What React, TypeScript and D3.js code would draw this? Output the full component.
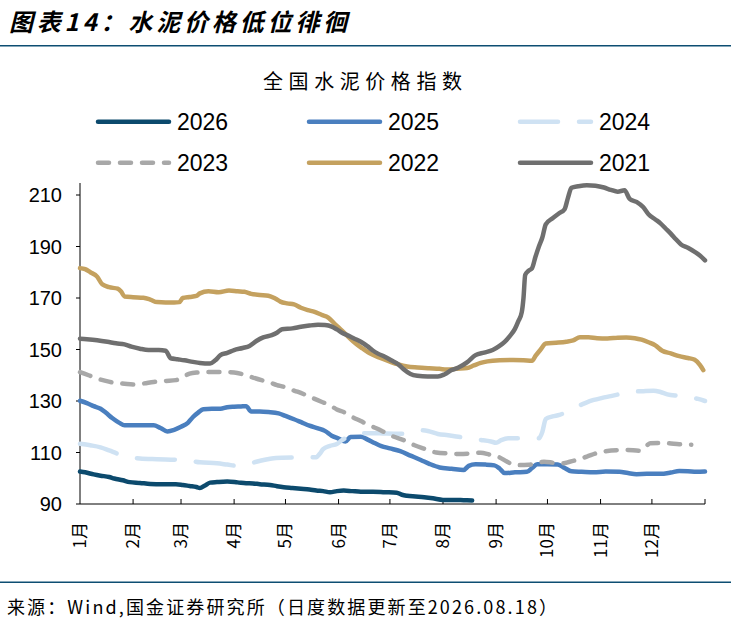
import React from "react";
import * as d3 from "d3";

type Pt = [number, number];

const monthStarts = [0, 31, 59, 90, 120, 151, 181, 212, 243, 273, 304, 334, 365];
const monthLabels = ["1月", "2月", "3月", "4月", "5月", "6月", "7月", "8月", "9月", "10月", "11月", "12月"];
const yTicks = [90, 110, 130, 150, 170, 190, 210];

const s2026: Pt[] = [[0,102.6],[3,102.3],[8,101.5],[12,101],[17,100.5],[20,99.9],[25,99.2],[29,98.5],[35,98.2],[41,97.8],[48,97.7],[56,97.7],[60,97.4],[64,97],[68,96.6],[70,96.2],[73,97.2],[76,98.3],[80,98.5],[86,98.7],[92,98.4],[97,98.1],[101,98],[105,97.7],[111,97.4],[115,96.9],[119,96.5],[124,96.2],[129,95.9],[134,95.6],[138,95.2],[142,95],[146,94.6],[150,95],[154,95.2],[159,95],[164,94.8],[171,94.8],[178,94.6],[185,94.4],[188,93.6],[191,93.2],[196,92.9],[201,92.6],[206,92.2],[212,91.6],[218,91.6],[224,91.5],[229,91.4]];

const s2025: Pt[] = [[0,130.1],[4,129.2],[8,128],[12,127],[15,125.5],[19,123.3],[23,121.5],[26,120.6],[32,120.6],[38,120.6],[43,120.6],[47,119.5],[51,118.2],[55,118.8],[59,120],[63,121.5],[66,123.8],[69,125.5],[72,126.8],[77,127],[82,127],[86,127.6],[90,127.8],[94,127.9],[97,128],[100,125.9],[105,125.9],[110,125.7],[116,125.2],[120,124.2],[125,122.9],[130,121.5],[134,120.4],[139,119.4],[143,118.4],[147,116.5],[151,115.4],[155,114.3],[158,116],[164,116.1],[168,115],[172,113.7],[176,112.5],[181,111.6],[187,110.5],[193,108.8],[199,107.1],[204,105.6],[210,104.2],[217,103.7],[224,103.2],[227,104.8],[231,105.4],[237,105.3],[242,105],[245,103.8],[248,102],[254,102.3],[261,102.5],[264,104],[267,105.4],[273,105.4],[279,105.3],[283,104],[287,102.7],[293,102.5],[300,102.3],[307,102.6],[315,102.5],[320,102],[325,101.6],[331,101.7],[339,101.7],[345,102.2],[350,102.8],[355,102.7],[360,102.5],[365,102.6]];

const s2024: Pt[] = [[0,113.4],[6,112.8],[12,112],[17,110.8],[22,109.5],[28,108.2],[35,107.7],[45,107.4],[58,107.1],[65,106.7],[70,106.2],[80,105.8],[86,105.3],[92,104.8],[98,105.5],[103,106.4],[108,107.2],[112,107.7],[118,108],[125,108.1],[132,108.1],[138,108.2],[140,109.5],[142,111.3],[146,112.6],[150,113.3],[153,114.8],[157,116.2],[163,117.4],[170,117.5],[177,117.4],[183,117.3],[189,117.3],[195,117.8],[200,118.6],[204,118.2],[209,117.2],[215,116.7],[222,116],[228,115.4],[234,114.9],[240,114.3],[243,113.8],[246,114.8],[250,115.5],[256,115.5],[262,115.5],[268,115.5],[270,118],[272,123],[276,124],[280,124.6],[285,126],[290,127.7],[295,129.2],[300,130.4],[305,131.2],[310,131.9],[316,132.8],[321,133.6],[328,133.8],[335,134],[339,133.5],[343,132.6],[350,132],[356,131.4],[361,130.8],[365,130]];

const s2023: Pt[] = [[0,141.2],[5,140],[10,138.7],[15,137.8],[20,137.1],[26,136.7],[31,136.4],[37,136.8],[43,137.4],[50,137.8],[56,138.1],[60,139.3],[64,140.6],[69,141.1],[74,141.3],[82,141.3],[90,141.1],[96,140.2],[101,139.1],[106,138.1],[110,137.4],[115,136.2],[119,135.5],[123,134.5],[127,133.6],[132,132.3],[136,131.1],[141,129.7],[146,128.4],[150,126.7],[154,125.7],[159,123.8],[164,122.2],[168,120.8],[173,119.4],[178,117.8],[183,116.2],[189,114.8],[195,112.9],[201,111.5],[208,110],[215,109.6],[222,109.4],[228,109.6],[234,109.9],[239,109.2],[245,108.1],[249,106.6],[253,105.3],[257,105.1],[262,105.2],[266,105.8],[271,106.4],[277,106],[282,105.8],[286,106.4],[290,107.1],[296,108.4],[302,109.8],[308,110.6],[314,110.9],[319,111],[327,110.7],[330,112],[333,113.6],[338,113.7],[343,113.6],[350,113.2],[357,113]];

const s2022: Pt[] = [[0,181.6],[3,181.2],[6,180],[10,178.3],[13,175.3],[17,174.2],[22,173.6],[24,172.5],[26,170.6],[31,170.3],[37,170.1],[41,169.4],[45,168.4],[50,168.3],[55,168.3],[58,168.4],[60,170],[64,170.4],[68,170.8],[70,171.8],[75,172.6],[81,172.2],[87,172.9],[92,172.6],[96,172.4],[100,171.6],[105,171.2],[110,170.9],[114,169.8],[117,168.6],[121,167.9],[125,167.5],[129,166.2],[133,165.3],[137,164.6],[141,163.5],[145,162.4],[149,159.8],[153,157.3],[157,154.7],[161,152.3],[165,150.4],[169,148.6],[175,146.8],[181,145.3],[186,144.2],[191,143.4],[197,143],[204,142.7],[210,142.5],[214,142.2],[220,142.5],[226,142.8],[230,143.8],[234,144.8],[238,145.4],[245,145.8],[253,145.9],[259,145.8],[264,145.6],[266,147.5],[269,150],[272,152.3],[278,152.6],[284,153],[288,153.5],[292,154.8],[297,154.8],[302,154.4],[308,154.3],[314,154.6],[319,154.7],[324,154.4],[328,153.8],[332,152.8],[336,151.6],[340,149.5],[345,148.5],[350,147.4],[355,146.7],[359,146],[362,144],[364,142]];

const s2021: Pt[] = [[0,154.2],[4,154],[10,153.6],[16,153],[21,152.4],[26,152],[30,151.1],[35,150.3],[40,149.8],[46,149.8],[50,149.5],[53,146.6],[57,146.2],[61,145.8],[66,145.2],[70,144.8],[76,144.6],[79,145.8],[82,147.8],[86,148.7],[90,149.8],[95,150.6],[99,151.4],[103,153.3],[107,154.7],[112,155.6],[115,156.5],[118,157.9],[124,158.2],[129,158.8],[134,159.3],[139,159.6],[143,159.5],[147,158.9],[150,157.8],[153,156.5],[157,155.3],[160,154.3],[164,153],[168,151.2],[171,149.6],[174,148.4],[178,147.2],[182,145.7],[186,144.2],[189,142.3],[193,140.5],[197,139.8],[203,139.5],[209,139.5],[213,140.4],[217,142],[221,143],[226,145],[231,147.8],[236,148.8],[241,149.8],[245,151.4],[248,153],[251,155.2],[254,158],[256,161],[258,164.5],[259,170],[260,179],[262,180.6],[264,181.6],[266,186],[268,190],[270,193.5],[272,198.6],[276,201],[280,203],[283,204.5],[285,209],[287,212.8],[291,213.4],[296,213.8],[301,213.6],[306,212.9],[310,212],[314,211.3],[318,211.8],[321,208.5],[325,207.3],[329,205.2],[332,202.5],[336,200.5],[339,199],[342,197],[345,195],[348,192.8],[351,190.8],[355,189.5],[359,187.9],[362,186.5],[365,184.6]];

const seriesNames = ["2026", "2025", "2024", "2023", "2022", "2021"];
const seriesData = [s2026, s2025, s2024, s2023, s2022, s2021];

const styles: Record<string, { color: string; dash?: string }> = {
  "2026": { color: "#0c4a6d" },
  "2025": { color: "#4a7fbf" },
  "2024": { color: "#cfe2f3", dash: "38,21" },
  "2023": { color: "#a8a8a8", dash: "11,11" },
  "2022": { color: "#c4a15f" },
  "2021": { color: "#6f6f6f" },
};

const W = 731;
const H = 621;
const left = 80;
const right = 705;
const top = 195;
const bottom = 504;

export default function App() {
  const x = d3.scaleLinear().domain([0, 365]).range([left, right]);
  const y = d3.scaleLinear().domain([90, 210]).range([bottom, top]);
  const line = d3
    .line<Pt>()
    .x((d) => x(d[0]))
    .y((d) => y(d[1]))
    .curve(d3.curveMonotoneX);

  const legendCols = [96, 307, 518];
  const legendRows = [121.7, 162.7];
  const cjk = "'Noto Sans CJK SC', 'Noto Sans', sans-serif";
  const latin = "'Liberation Sans', Arial, sans-serif";

  return (
    <svg
      width={W}
      height={H}
      style={{ position: "absolute", left: 0, top: 0, background: "#fff" }}
    >
      <rect x={0} y={0} width={W} height={H} fill="#fff" />
      {/* header */}
      <text
        x={9}
        y={31}
        fontFamily={cjk}
        fontSize={24}
        fontWeight="bold"
        fontStyle="italic"
        fill="#000"
        textLength={338}
        lengthAdjust="spacing"
      >
        图表14：水泥价格低位徘徊
      </text>
      <line x1={0} x2={W} y1={45.7} y2={45.7} stroke="#0d4e72" strokeWidth={1.5} />

      {/* chart title */}
      <text
        x={263}
        y={89}
        fontFamily={cjk}
        fontSize={20}
        fill="#000"
        textLength={199}
        lengthAdjust="spacing"
      >
        全国水泥价格指数
      </text>

      {/* legend */}
      {seriesNames.map((name, i) => {
        const cx = legendCols[i % 3];
        const cy = legendRows[Math.floor(i / 3)];
        const st = styles[name];
        return (
          <g key={name}>
            <line
              x1={cx + 2}
              x2={cx + 73}
              y1={cy}
              y2={cy}
              stroke={st.color}
              strokeWidth={4.5}
              strokeLinecap="round"
              strokeDasharray={st.dash}
            />
            <text x={cx + 81} y={cy + 8.5} fontFamily={latin} fontSize={23} fill="#000">
              {name}
            </text>
          </g>
        );
      })}

      {/* axes */}
      <line x1={left} x2={left} y1={183} y2={bottom} stroke="#000" strokeWidth={1} />
      <line x1={left} x2={right} y1={bottom} y2={bottom} stroke="#000" strokeWidth={1} />
      {yTicks.map((t) => (
        <g key={t}>
          <line x1={left - 4} x2={left} y1={y(t)} y2={y(t)} stroke="#000" />
          <text
            x={62}
            y={y(t)}
            dy="0.36em"
            textAnchor="end"
            fontFamily={latin}
            fontSize={20}
            fill="#000"
          >
            {t}
          </text>
        </g>
      ))}
      {monthStarts.slice(1).map((m) => (
        <line key={m} x1={x(m)} x2={x(m)} y1={bottom} y2={bottom - 5} stroke="#000" />
      ))}
      {monthLabels.map((lab, i) => (
        <text
          key={lab}
          transform={`translate(${x(monthStarts[i])},${522})rotate(-90)`}
          dy="0.35em"
          textAnchor="end"
          fontFamily={cjk}
          fontSize={17}
          fill="#000"
        >
          {lab}
        </text>
      ))}

      {/* series: first in legend drawn at bottom */}
      {seriesNames.map((name, i) => {
        const st = styles[name];
        return (
          <path
            key={name}
            d={line(seriesData[i]) || ""}
            fill="none"
            stroke={st.color}
            strokeWidth={4.5}
            strokeLinejoin="round"
            strokeLinecap="round"
            strokeDasharray={st.dash}
          />
        );
      })}

      {/* footer */}
      <line x1={0} x2={W} y1={582.3} y2={582.3} stroke="#0d4e72" strokeWidth={1.5} />
      <text
        x={7}
        y={614}
        fontFamily={cjk}
        fontSize={18}
        fill="#000"
        textLength={550}
        lengthAdjust="spacing"
      >
        来源：Wind,国金证券研究所（日度数据更新至2026.08.18）
      </text>
    </svg>
  );
}
